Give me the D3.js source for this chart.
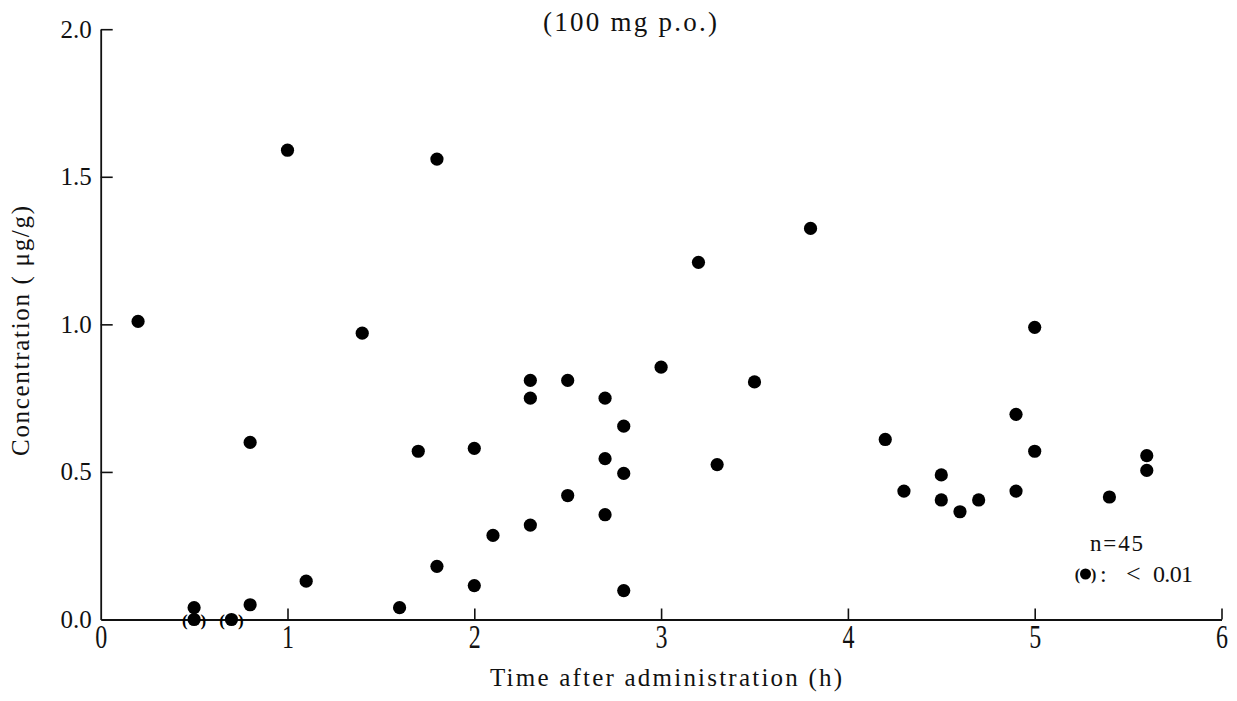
<!DOCTYPE html>
<html>
<head>
<meta charset="utf-8">
<script src="https://cdn.jsdelivr.net/npm/d3@7"></script>
<style>
  body { margin: 0; background: #fff; }
  svg text { font-family: "Liberation Serif", "DejaVu Serif", serif; }
  .axis path, .axis line { stroke: #111; stroke-width: 1.6; }
  .axis .domain { stroke-width: 1.8; }
</style>
</head>
<body>
<svg id="chart" width="1237" height="701"></svg>
<script>
// time after administration (h)
var times = [0.2, 0.5, 0.5, 0.7, 0.8, 0.8, 1.0, 1.1, 1.4, 1.6,
             1.7, 1.8, 1.8, 2.0, 2.0, 2.1, 2.3, 2.3, 2.3, 2.5,
             2.5, 2.7, 2.7, 2.7, 2.8, 2.8, 2.8, 3.0, 3.2, 3.3,
             3.5, 3.8, 4.2, 4.3, 4.5, 4.5, 4.6, 4.7, 4.9, 4.9,
             5.0, 5.0, 5.4, 5.6, 5.6];
// concentration (ug/g), below-limit points plotted at 0
var concs = [1.01, 0.04, 0.00, 0.00, 0.05, 0.60, 1.59, 0.13, 0.97, 0.04,
             0.57, 1.56, 0.18, 0.58, 0.115, 0.285, 0.81, 0.75, 0.32, 0.81,
             0.42, 0.75, 0.545, 0.355, 0.655, 0.495, 0.098, 0.855, 1.21, 0.525,
             0.805, 1.325, 0.61, 0.435, 0.49, 0.405, 0.365, 0.405, 0.695, 0.435,
             0.99, 0.57, 0.415, 0.555, 0.505];
// 1 = below limit (< 0.01), shown in brackets
var belowLimit = [0, 0, 1, 1, 0, 0, 0, 0, 0, 0,
                  0, 0, 0, 0, 0, 0, 0, 0, 0, 0,
                  0, 0, 0, 0, 0, 0, 0, 0, 0, 0,
                  0, 0, 0, 0, 0, 0, 0, 0, 0, 0,
                  0, 0, 0, 0, 0];
var xTicks = [0, 1, 2, 3, 4, 5, 6];
var yTicks = [0, 0.5, 1.0, 1.5, 2.0];

var svg = d3.select("#chart");

var x = d3.scaleLinear().domain([0, 6]).range([100.7, 1221.5]);
var y = d3.scaleLinear().domain([0, 2]).range([619.5, 29.2]);

var data = times.map(function(t, i){ return {t: t, c: concs[i], bl: belowLimit[i]}; });

// x axis, ticks pointing inward
var gx = svg.append("g").attr("class", "axis")
  .attr("transform", "translate(0," + y(0) + ")")
  .call(d3.axisBottom(x).tickValues(xTicks).tickFormat(d3.format("d"))
        .tickSizeInner(-11).tickSizeOuter(0));
gx.selectAll("text")
  .attr("y", 0).attr("dy", null)
  .attr("fill", "#111")
  .style("font-size", "24px")
  .attr("transform", "translate(0,28.5) scale(1,1.4)");
gx.selectAll(".tick").filter(function(d){ return d === 0; }).select("line").remove();

// y axis
var gy = svg.append("g").attr("class", "axis")
  .attr("transform", "translate(" + x(0) + ",0)")
  .call(d3.axisLeft(y).tickValues(yTicks).tickFormat(d3.format(".1f"))
        .tickSizeInner(-12).tickSizeOuter(0).tickPadding(9));
gy.selectAll("text")
  .attr("fill", "#111")
  .style("font-size", "25px");
gy.selectAll(".tick").filter(function(d){ return d === 0; }).select("line").remove();

// points
svg.append("g").selectAll("circle")
  .data(data).enter().append("circle")
  .attr("cx", function(d){ return x(d.t); })
  .attr("cy", function(d){ return y(d.c); })
  .attr("r", 6.6)
  .attr("fill", "#000");

// brackets round below-limit points
var bl = data.filter(function(d){ return d.bl; });
var brk = svg.append("g").style("font-size", "17px").style("font-weight", "bold").attr("fill", "#000");
brk.selectAll("text.l").data(bl).enter().append("text").attr("class", "l")
  .attr("x", function(d){ return x(d.t) - 6.5; })
  .attr("y", function(d){ return y(d.c) + 6; })
  .attr("text-anchor", "end").text("(");
brk.selectAll("text.r").data(bl).enter().append("text").attr("class", "r")
  .attr("x", function(d){ return x(d.t) + 6.5; })
  .attr("y", function(d){ return y(d.c) + 6; })
  .attr("text-anchor", "start").text(")");

// title
svg.append("text")
  .attr("x", 630).attr("y", 31)
  .attr("text-anchor", "middle")
  .attr("textLength", 174).attr("lengthAdjust", "spacing")
  .style("font-size", "27px").attr("fill", "#111")
  .text("(100 mg  p.o.)");

// axis titles
svg.append("text")
  .attr("x", 666).attr("y", 686)
  .attr("text-anchor", "middle")
  .attr("textLength", 352).attr("lengthAdjust", "spacing")
  .style("font-size", "25px").attr("fill", "#111")
  .text("Time  after  administration (h)");

svg.append("text")
  .attr("transform", "translate(29,331) rotate(-90)")
  .attr("text-anchor", "middle")
  .attr("textLength", 250).attr("lengthAdjust", "spacing")
  .style("font-size", "25px").attr("fill", "#111")
  .text("Concentration ( \u03bcg/g)");

// annotation
var ann = svg.append("g").attr("fill", "#111");
ann.append("text").attr("x", 1090).attr("y", 551)
  .style("font-size", "23px").text("n=45")
  .attr("textLength", 53).attr("lengthAdjust", "spacing");
ann.append("text").attr("x", 1080).attr("y", 580).attr("text-anchor", "end")
  .style("font-size", "16px").style("font-weight", "bold").text("(");
ann.append("circle").attr("cx", 1085.5).attr("cy", 574).attr("r", 5.5).attr("fill", "#000");
ann.append("text").attr("x", 1091).attr("y", 580)
  .style("font-size", "16px").style("font-weight", "bold").text(")");
ann.append("text").attr("x", 1100).attr("y", 582)
  .style("font-size", "24px").text(":");
ann.append("text").attr("x", 1126).attr("y", 582)
  .style("font-size", "26px").text("<");
ann.append("text").attr("x", 1153).attr("y", 582)
  .style("font-size", "24px").text("0.01")
  .attr("textLength", 40).attr("lengthAdjust", "spacing");
</script>
</body>
</html>
